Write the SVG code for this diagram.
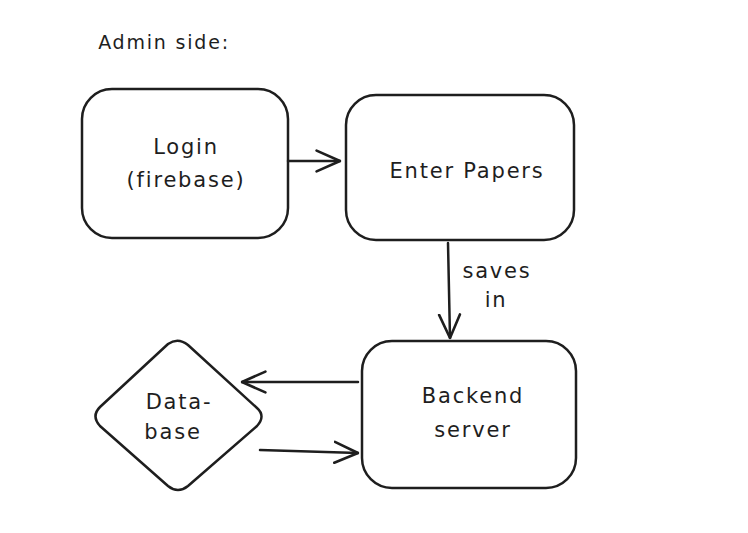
<svg xmlns="http://www.w3.org/2000/svg" width="748" height="533" viewBox="0 0 748 533">
<style>
.n{fill:#fff;stroke:#1e1e1e;stroke-width:2.5;stroke-linejoin:round}
.c{fill:none;stroke:#1e1e1e;stroke-width:2.5;stroke-linecap:round;stroke-linejoin:round}
text{font-family:"DejaVu Sans","Liberation Sans",sans-serif;font-size:21px;letter-spacing:1.8px;fill:#1e1e1e;text-anchor:middle}
</style>
<defs>
<marker id="ah" viewBox="0 0 20 20" refX="19" refY="10" markerWidth="26" markerHeight="26" markerUnits="userSpaceOnUse" orient="auto">
<path d="M1 2 L19 10 L1 18" fill="none" stroke="#1e1e1e" stroke-width="2" stroke-linecap="round" stroke-linejoin="round"/>
</marker>
</defs>
<rect width="748" height="533" fill="#fff"/>
<text x="164" y="49" style="font-size:19px">Admin side:</text>
<g id="login">
<rect class="n" x="82" y="89" width="206" height="149" rx="30"/>
<text x="186" y="154">Login</text>
<text x="186" y="187">(firebase)</text>
</g>
<g id="enter">
<rect class="n" x="346" y="95" width="228" height="145" rx="30"/>
<text x="467" y="178">Enter Papers</text>
</g>
<g id="backend">
<rect class="n" x="362" y="341" width="214" height="147" rx="30"/>
<text x="473" y="403">Backend</text>
<text x="473" y="437">server</text>
</g>
<g id="database">
<path class="n" d="M168 344 Q178 337 188 345 L257 408 Q266 416 257 426 L188 486 Q178 494 168 486 L100 426 Q91 416 100 407 Z"/>
<text x="179" y="409">Data-</text>
<text x="173" y="439">base</text>
</g>
<g id="connectors">
<path class="c" d="M288 161 L340 161" marker-end="url(#ah)"/>
<path class="c" d="M448 243 L450 338" marker-end="url(#ah)"/>
<path class="c" d="M358 382 L242 382" marker-end="url(#ah)"/>
<path class="c" d="M260 450 L358 453" marker-end="url(#ah)"/>
<text x="497" y="278">saves</text>
<text x="496" y="307">in</text>
</g>
</svg>
